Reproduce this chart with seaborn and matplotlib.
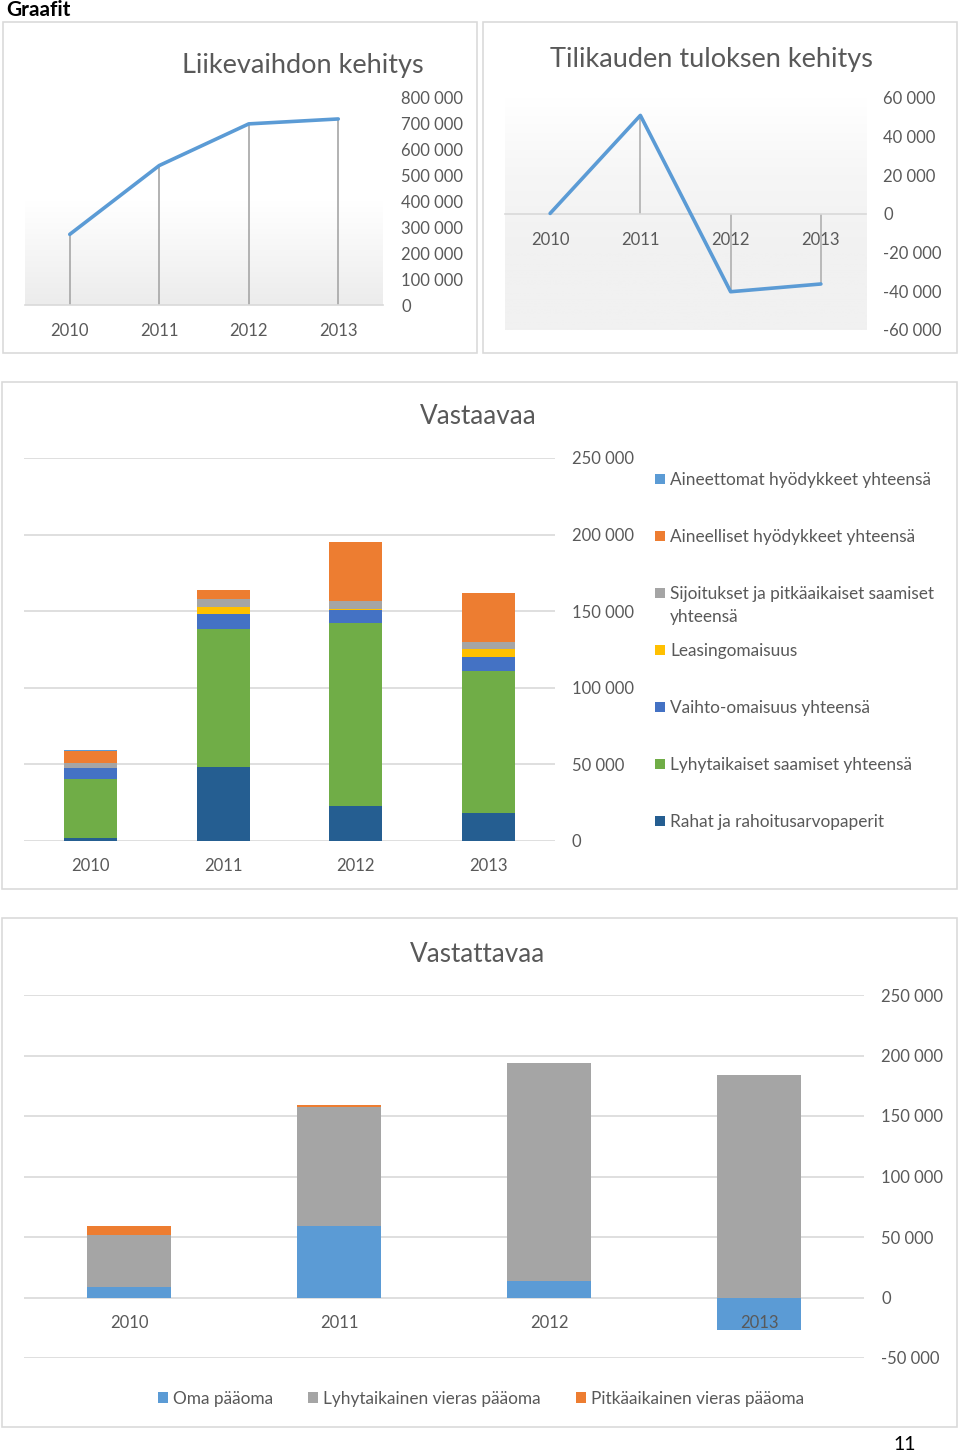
import numpy as np
import pandas as pd
import matplotlib
matplotlib.use("Agg")
import matplotlib.pyplot as plt
from matplotlib.patches import Rectangle, Patch
from matplotlib.ticker import FuncFormatter, MultipleLocator
from matplotlib.colors import LinearSegmentedColormap
import seaborn as sns

# ---------------- data ----------------
years = ["2010", "2011", "2012", "2013"]

liikevaihto = [273000, 539000, 700000, 719000]
tulos = [300, 51000, -40200, -36200]

# Vastaavaa (stack order bottom -> top)
rahat = [2000, 48400, 22900, 18300]
lyhyt_saamiset = [38500, 90200, 119400, 92600]
vaihto = [7200, 9600, 8300, 9200]
leasing = [0, 4700, 1000, 5000]
sijoitukset = [2900, 4900, 4900, 4800]
aineelliset = [7800, 6100, 38500, 31800]
aineettomat = [900, 0, 0, 0]
vastaavaa_names = ["Rahat ja rahoitusarvopaperit",
                   "Lyhytaikaiset saamiset yhteensä",
                   "Vaihto-omaisuus yhteensä",
                   "Leasingomaisuus",
                   "Sijoitukset ja pitkäaikaiset saamiset\nyhteensä",
                   "Aineelliset hyödykkeet yhteensä",
                   "Aineettomat hyödykkeet yhteensä"]
vastaavaa_colors = ["#255E91", "#70AD47", "#4472C4", "#FFC000",
                    "#A5A5A5", "#ED7D31", "#5B9BD5"]

# Vastattavaa
oma_paaoma = [8300, 59100, 14000, -27000]
lyhyt_vieras = [43100, 98200, 179600, 183700]
pitka_vieras = [7700, 2200, 0, 0]
vastattavaa_names = ["Oma pääoma", "Lyhytaikainen vieras pääoma",
                     "Pitkäaikainen vieras pääoma"]
vastattavaa_colors = ["#5B9BD5", "#A5A5A5", "#ED7D31"]

# ---------------- style ----------------
sns.set_theme(style="white")
plt.rcParams['font.family'] = ['Lato', 'DejaVu Sans']

W, H = 960, 1454
PT = 72 / 100.0  # points per pixel
TXT = '#595959'
GRID = '#d9d9d9'

fig = plt.figure(figsize=(W / 100, H / 100), dpi=100)


def rect(x0, y0, x1, y1):
    return [x0 / W, 1 - y1 / H, (x1 - x0) / W, (y1 - y0) / H]


def fx(x):
    return x / W


def fy(y):
    return 1 - y / H


fmt = FuncFormatter(lambda v, p: f"{int(round(v)):,}".replace(",", " "))

# boxes
for (x0, y0, x1, y1) in [(3, 22, 477, 353), (483, 22, 957, 353),
                         (2, 382, 957, 889), (2, 918, 957, 1427)]:
    fig.patches.append(Rectangle((fx(x0), fy(y1)), (x1 - x0) / W, (y1 - y0) / H,
                                 transform=fig.transFigure, fill=False,
                                 edgecolor='#d9d9d9', lw=1.6 * PT))

fig.text(fx(6), fy(10), "Graafit", fontsize=15, fontweight='bold',
         color='black', va='center', ha='left')
fig.text(fx(905), fy(1444), "11", fontsize=14, color='black',
         va='center', ha='center')


def gradient(ax, colors):
    cmap = LinearSegmentedColormap.from_list('g', colors)
    grad = np.linspace(0, 1, 256).reshape(-1, 1)
    ax.imshow(grad, cmap=cmap, aspect='auto', extent=[0, 1, 0, 1],
              origin='upper', transform=ax.transAxes, zorder=0)


def style_axes(ax, ypad, xpad):
    for s in ['top', 'left', 'right']:
        ax.spines[s].set_visible(False)
    ax.spines['bottom'].set_color(GRID)
    ax.spines['bottom'].set_linewidth(1.2)
    ax.yaxis.tick_right()
    ax.tick_params(axis='y', length=0, pad=ypad * PT, labelsize=12,
                   labelcolor=TXT)
    ax.tick_params(axis='x', length=0, pad=xpad * PT, labelsize=12,
                   labelcolor=TXT)
    ax.yaxis.set_major_formatter(fmt)
    ax.set_xlabel("")
    ax.set_ylabel("")


pos = np.arange(len(years))

# ---------------- chart 1: Liikevaihdon kehitys ----------------
ax1 = fig.add_axes(rect(25, 98, 383, 305))
gradient(ax1, ['#ffffff', '#ffffff', '#ececec'])
df1 = pd.DataFrame({'pos': pos, 'value': liikevaihto})
ax1.vlines(df1['pos'], 0, df1['value'], color='#a6a6a6', lw=1.2, zorder=2)
sns.lineplot(data=df1, x='pos', y='value', ax=ax1, color='#5B9BD5',
             lw=2.6, zorder=3)
ax1.set_xlim(-0.5, 3.5)
ax1.set_ylim(0, 800000)
ax1.yaxis.set_major_locator(MultipleLocator(100000))
ax1.set_xticks(pos, years)
style_axes(ax1, 18, 18)
fig.text(fx(303), fy(65), "Liikevaihdon kehitys", fontsize=19.5, color=TXT,
         ha='center', va='center')

# ---------------- chart 2: Tilikauden tuloksen kehitys ----------------
ax2 = fig.add_axes(rect(505, 98, 866, 330))
gradient(ax2, ['#ffffff', '#f6f6f6', '#f1f1f1', '#f1f1f1'])
df2 = pd.DataFrame({'pos': pos, 'value': tulos})
ax2.vlines(df2['pos'], 0, df2['value'], color='#b0b0b0', lw=1.2, zorder=2)
sns.lineplot(data=df2, x='pos', y='value', ax=ax2, color='#5B9BD5',
             lw=2.6, zorder=3)
ax2.set_xlim(-0.5, 3.5)
ax2.set_ylim(-60000, 60000)
ax2.yaxis.set_major_locator(MultipleLocator(20000))
ax2.set_xticks(pos, years)
style_axes(ax2, 17, 18)
ax2.spines['bottom'].set_position(('data', 0))
fig.text(fx(711), fy(60), "Tilikauden tuloksen kehitys", fontsize=19.5,
         color=TXT, ha='center', va='center')

# ---------------- chart 3: Vastaavaa ----------------
ax3 = fig.add_axes(rect(24, 458, 555, 840.7))
series3 = [rahat, lyhyt_saamiset, vaihto, leasing, sijoitukset,
           aineelliset, aineettomat]
bottom = np.zeros(len(years))
for vals, col, name in zip(series3, vastaavaa_colors, vastaavaa_names):
    v = np.array(vals, dtype=float)
    ax3.bar(pos, v, bottom=bottom, width=0.4, color=col, label=name,
            zorder=3, linewidth=0)
    bottom += v
ax3.set_xlim(-0.5, 3.5)
ax3.set_ylim(0, 250000)
ax3.yaxis.set_major_locator(MultipleLocator(50000))
ax3.set_xticks(pos, years)
ax3.yaxis.grid(True, color=GRID, lw=1.2, zorder=0)
style_axes(ax3, 17, 17)
ax3.spines['bottom'].set_visible(False)
fig.text(fx(478), fy(417), "Vastaavaa", fontsize=18.8, color=TXT,
         ha='center', va='center')

# legend (top -> bottom reversed stack order), fixed slots
leg_names = vastaavaa_names[::-1]
leg_cols = vastaavaa_colors[::-1]
for i, (name, col) in enumerate(zip(leg_names, leg_cols)):
    yc = 480 + 57 * i
    fig.patches.append(Rectangle((fx(655), fy(yc + 4)), 10 / W, 10 / H,
                                 transform=fig.transFigure, color=col, lw=0))
    for k, line in enumerate(name.split("\n")):
        fig.text(fx(670), fy(yc + 23 * k), line, fontsize=12.4, color=TXT,
                 ha='left', va='center')

# ---------------- chart 4: Vastattavaa ----------------
ax4 = fig.add_axes(rect(24, 995, 864, 1358))
series4 = [oma_paaoma, lyhyt_vieras, pitka_vieras]
pos_bottom = np.zeros(len(years))
neg_bottom = np.zeros(len(years))
for vals, col, name in zip(series4, vastattavaa_colors, vastattavaa_names):
    v = np.array(vals, dtype=float)
    b = np.where(v >= 0, pos_bottom, neg_bottom)
    ax4.bar(pos, v, bottom=b, width=0.4, color=col, label=name, zorder=3,
            linewidth=0)
    pos_bottom += np.where(v >= 0, v, 0)
    neg_bottom += np.where(v < 0, v, 0)
ax4.set_xlim(-0.5, 3.5)
ax4.set_ylim(-50000, 250000)
ax4.yaxis.set_major_locator(MultipleLocator(50000))
ax4.set_xticks(pos, years)
ax4.yaxis.grid(True, color=GRID, lw=1.2, zorder=0)
style_axes(ax4, 17, 17)
ax4.spines['bottom'].set_visible(False)
ax4.spines['bottom'].set_position(('data', 0))
ax4.xaxis.set_zorder(5)
fig.text(fx(478), fy(954), "Vastattavaa", fontsize=18.8, color=TXT,
         ha='center', va='center')

handles = [Patch(facecolor=c, edgecolor='none') for c in vastattavaa_colors]
fig.legend(handles, vastattavaa_names, loc='center',
           bbox_to_anchor=(fx(481), fy(1399)), ncol=3, frameon=False,
           fontsize=12.4, labelcolor=TXT, handlelength=0.6, handleheight=0.6,
           handletextpad=0.3, columnspacing=2.0)

fig.savefig("out.png", dpi=100)
